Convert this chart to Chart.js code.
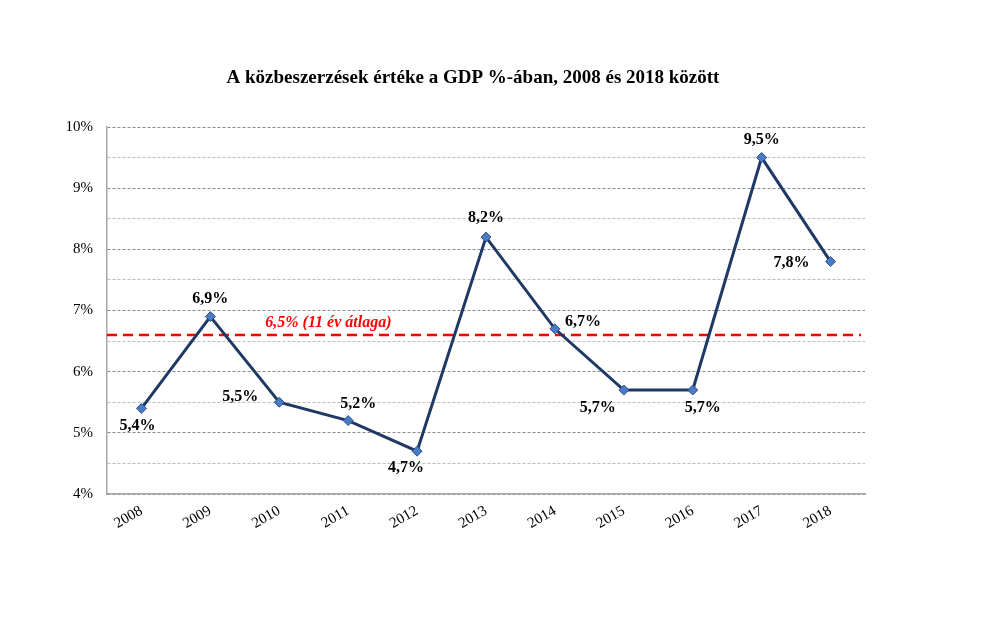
<!DOCTYPE html>
<html>
<head>
<meta charset="utf-8">
<script src="https://cdn.jsdelivr.net/npm/chart.js@4/dist/chart.umd.min.js"></script>
<style>
  html, body { margin: 0; padding: 0; background: #fff; }
  #wrap { width: 1000px; height: 624px; }
</style>
</head>
<body>
<div id="wrap"><canvas id="c" width="1000" height="624"></canvas></div>
<script>
const years   = ['2008','2009','2010','2011','2012','2013','2014','2015','2016','2017','2018'];
const values  = [5.4, 6.9, 5.5, 5.2, 4.7, 8.2, 6.7, 5.7, 5.7, 9.5, 7.8];
const avgLine = 6.6;
const avgText = '6,5% (11 év átlaga)';
const titleText = 'A közbeszerzések értéke a GDP %-ában, 2008 és 2018 között';

// label offsets (px) relative to each point
const labelOffsets = [[-4,17],[0,-18],[-39,-5],[10,-17],[-11,17],[0,-19],[28,-7],[-26,18],[10,18],[0,-18],[-39,1]];

const FONT = '"Liberation Serif", "DejaVu Serif", serif';
const fmt = (v) => v.toFixed(1).replace('.', ',') + '%';

const extrasPlugin = {
    id: 'extras',
    beforeDatasetsDraw(chart) {
        const { ctx, chartArea } = chart;
        const y = chart.scales.y.getPixelForValue(avgLine);
        ctx.save();
        ctx.strokeStyle = '#ff0000';
        ctx.lineWidth = 2.5;
        ctx.setLineDash([10, 6]);
        ctx.beginPath();
        ctx.moveTo(chartArea.left, y);
        ctx.lineTo(chartArea.right - 4, y);
        ctx.stroke();
        ctx.setLineDash([]);
        ctx.fillStyle = '#ff0000';
        ctx.font = 'italic bold 16px ' + FONT;
        ctx.textAlign = 'center';
        ctx.textBaseline = 'bottom';
        ctx.fillText(avgText, chart.scales.x.getPixelForValue(1) + 118, y - 4);
        ctx.restore();
    },
    afterDatasetsDraw(chart) {
        const { ctx } = chart;
        const meta = chart.getDatasetMeta(0);
        ctx.save();
        ctx.fillStyle = '#000';
        ctx.font = 'bold 16px ' + FONT;
        ctx.textAlign = 'center';
        ctx.textBaseline = 'middle';
        meta.data.forEach((pt, i) => {
            const [dx, dy] = labelOffsets[i];
            ctx.fillText(fmt(values[i]), pt.x + dx, pt.y + dy);
        });
        ctx.font = 'bold 19px ' + FONT;
        ctx.fillText(titleText, 473, 78);
        ctx.restore();
    },
};

new Chart(document.getElementById('c'), {
    type: 'line',
    data: {
        labels: years,
        datasets: [{
            data: values,
            borderColor: '#1f3864',
            borderWidth: 3,
            tension: 0,
            pointStyle: 'rectRot',
            pointRadius: 5,
            pointBackgroundColor: '#4a7bc6',
            pointBorderColor: '#2b4f8a',
            pointBorderWidth: 1,
        }],
    },
    options: {
        responsive: false,
        animation: false,
        layout: { padding: { left: 40, right: 135, top: 127, bottom: 70 } },
        plugins: { legend: { display: false }, tooltip: { enabled: false }, title: { display: false } },
        scales: {
            x: {
                offset: true,
                grid: { display: false, drawTicks: false },
                border: { display: true, color: '#a6a6a6', width: 1.5 },
                ticks: {
                    color: '#000',
                    font: { family: FONT, size: 15 },
                    minRotation: 30, maxRotation: 30,
                    padding: 8,
                },
                afterFit: (s) => { s.height = 60; },
            },
            y: {
                min: 4, max: 10,
                grid: {
                    color: (c) => (c.tick && Number.isInteger(c.tick.value)) ? '#8a8a8a' : '#bdbdbd',
                    lineWidth: 1,
                    drawTicks: false,
                },
                border: { display: true, color: '#a6a6a6', width: 1.5, dash: [3, 2] },
                ticks: {
                    stepSize: 0.5,
                    color: '#000',
                    font: { family: FONT, size: 15 },
                    padding: 14,
                    callback: (v) => Number.isInteger(v) ? v + '%' : '',
                },
                afterFit: (s) => { s.width = 67; },
            },
        },
    },
    plugins: [extrasPlugin],
});
</script>
</body>
</html>
